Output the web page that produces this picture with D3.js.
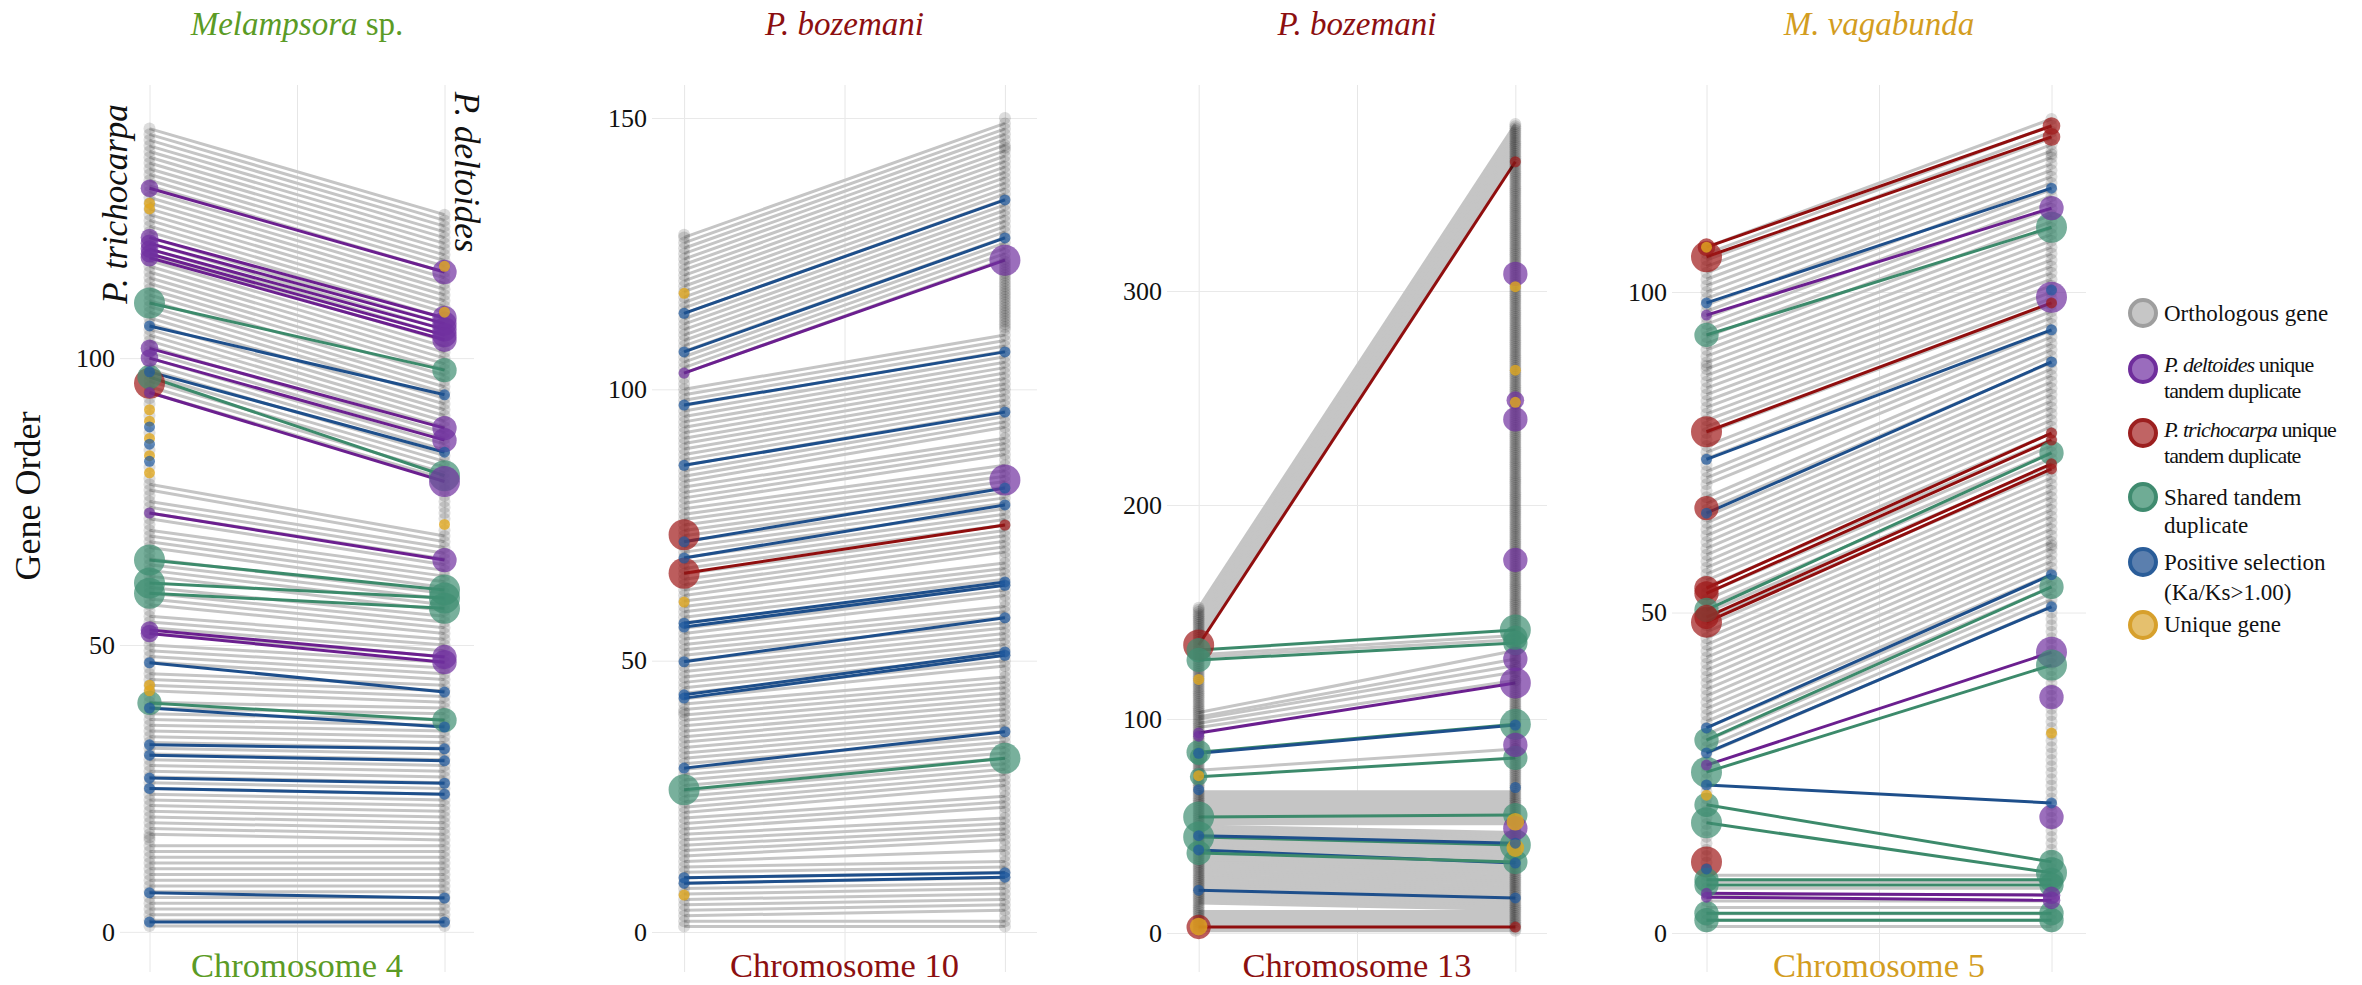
<!DOCTYPE html>
<html>
<head>
<meta charset="utf-8">
<script src="https://cdn.jsdelivr.net/npm/d3@7"></script>
<style>
  body { margin: 0; background: #fff; }
  svg { display: block; }
  text { font-family: "Liberation Serif", "Times New Roman", serif; }
</style>
</head>
<body>
<svg id="chart" width="2362" height="985"></svg>
<script>
// ---- data: gene order on P. trichocarpa (left) vs P. deltoides (right) ----
// categories: P = P. deltoides unique TD, R = P. trichocarpa unique TD,
// G = shared TD, B = positive selection, Y = unique gene. weight = point size class

const pathogenItalic = ['Melampsora', 'P. bozemani', 'P. bozemani', 'M. vagabunda'];
const pathogenSuffix = [' sp.', '', '', ''];
const chromosomes = ['Chromosome 4', 'Chromosome 10', 'Chromosome 13', 'Chromosome 5'];
const tickValues = [[0, 50, 100], [0, 50, 100, 150], [0, 100, 200, 300], [0, 50, 100]];

// Chromosome 4 (Melampsora sp.)
const chr4GrayL = [140,139,138,137,136,135,134,133,132,131,130,129,128,127,126,125,124,123,122,121,120,119,118,117,116,115,114,113,112,111,110,109,108,107,106,105,104,103,102,101,100,99,98,97,96,95,94,
  78,77,75,74,73,72,70,69,68,67,65,64,63,62,60,59,58,57,55,54,53,52,50,49,48,47,45,44,43,42,40,39,38,37,36,35,34,33,32,31,30,29,28,27,26,25,24,23,22,21,20,19,18,17,
  15,14,13,12,11,10,9,8,7,6,5,4,3,2,1];
const chr4GrayR = [125,124,123,122,121,120,119,118,117,116,115,114,113,112,111,110,109,108,107,106,105,104,103,102,101,100,99,98,97,96,95,94,93,92,91,90,89,88,87,86,85,84,83,82,81,80,79,
  69,68,67,66,65,64,63,62,61,60,59,58,57,56,55,54,53,52,51,50,49,48,47,46,45,44,43,42,41,40,39,38,37,36,35,34,33,32,31,30,29,28,27,26,25,24,23,22,21,20,19,18,17,16,
  15,14,13,12,11,10,9,8,7,6,5,4,3,2,1];
const chr4OnlyGrayL = [93,92,90,87,84,81,79,76,71,66,61,56,51,46,41,16,16.5];
const chr4OnlyGrayR = [78,77,76,75,74,73,72,70];
const chr4Pairs = [
  ['P',129.6,115,2,3],['P',121,107,2,3],['P',120,106,2,3],['P',119,105,2,3],['P',118.2,104,2,3],['P',117.5,103.2,2,3],
  ['G',109.6,97.9,4,3],['B',105.6,93.6,1,1],['P',101.7,87.8,2,3],['P',100,85.7,2,3],['B',97.6,83.6,1,1],
  ['G',96.7,79.5,3,4],['P',94,78.5,1,4],['P',73,64.8,1,3],['G',64.8,59.6,4,4],['G',60.8,58.2,4,4],['G',59,56.4,4,4],
  ['P',52.6,47.9,2,3],['P',52,47,2,3],['B',46.9,41.8,1,1],['G',39.9,36.9,3,3],['B',39,35.7,1,1],
  ['B',32.6,31.9,1,1],['B',30.8,29.8,1,1],['B',26.8,25.9,1,1],['B',25,24,1,1],['B',6.8,5.9,1,1],['B',1.7,1.7,1,1]
];
const chr4OnlyL = [['R',95.6,4],['Y',127,1],['Y',126,1],['Y',91,1],['Y',89,1],['Y',86,1],['Y',83,1],['Y',80,1],
  ['B',88,1],['B',85,1],['B',82,1],['Y',43,1],['Y',42,1]];
const chr4OnlyR = [['Y',116,1],['Y',108,1],['Y',71,1]];

// Chromosome 10 (P. bozemani)
const chr10GrayL = [128,127,126,125,124,123,122,121,120,119,118,117,116,115,114,113,112,111,110,109,108,107,106,105,104,103,
  100,99,98,97,96,95,94,93,92,91,90,89,88,87,86,85,84,83,82,81,80,79,78,77,76,75,74,73,72,71,70,69,68,67,66,65,64,63,62,61,
  60,59,58,57,56,55,54,53,52,51,50,49,48,47,46,45,44,43,42,41,40,39,38,37,36,35,34,33,32,31,30,29,28,27,26,25,24,23,22,21,
  20,19,18,17,16,15,14,13,12,11,10,9,8,7,6,5,4,3,2,1];
const chr10GrayR = [149,148,147,146,145,144,143,142,141,140,139,138,137,136,135,134,133,132,131,130,129,128,127,126,125,124,
  110,109,108,107,106,105,104,103,102,101,100,99,98,97,96,95,94,93,91,90,89,88,86,85,84,83,82,81,80,79,78,77,76,75,74,73,72,71,70,
  68,67,66,65,64,63,62,60,59,58,57,56,55,54,53,52,51,50,49,47,46,45,44,43,42,41,40,39,38,37,36,35,34,33,32,31,30,29,28,27,
  25,24,23,21,20,19,18,17,15,13,12,11,10,9,8,7,6,5,4,2,1];
const chr10OnlyGrayL = [101,102,128.5,40.5];
const chr10OnlyGrayR = [111,111.5,112,112.5,113,113.5,114,114.5,115,115.5,116,116.5,117,117.5,118,118.5,119,119.5,120,120.5,121,121.5,122,122.5,123,123.5,
  3,14,16,22,26,48,61,69,87,92,144.5,150];
const chr10Pairs = [
  ['B',114,134.9,1,1],['B',106.9,127.9,1,1],['P',103,123.8,1,4],['B',97.1,106.9,1,1],['B',86,95.8,1,1],
  ['B',71.9,81.8,1,1],['B',68.9,78.7,1,1],['R',66.1,75,4,1],['B',56.9,64.5,1,1],['B',56.2,63.9,1,1],
  ['B',49.8,57.9,1,1],['B',43.7,51.6,1,1],['B',43.1,51,1,1],['B',30.2,36.9,1,1],['G',26.2,32,4,4],
  ['B',10,10.9,1,1],['B',9,10.1,1,1]
];
const chr10OnlyL = [['R',73.2,4],['Y',117.7,1],['Y',60.8,1],['Y',6.8,1]];
const chr10OnlyR = [['P',83.3,4]];

// Chromosome 13 (P. bozemani)
const chr13GrayL = [152,151,150,149,148,147,146,145,144,143,142,141,140,139,138,137,136,
  130,129,103,101,100,98,96,76,
  66,65,64,63,62,61,60,59,58,57,56,55,54,53,52,51,
  50,49,48,47,46,45,44,43,42,41,40,39,38,37,36,35,34,33,32,31,30,29,28,27,26,25,24,23,22,21,20,19,18,17,16,15,14,
  10,9,8,7,6,5,4,3,2,1];
const chr13GrayR = [378,377,376,375,374,373,372,371,370,369,368,367,366,365,364,363,362,
  139,137,132,128,125,122,118,86,
  66,65,64,63,62,61,60,59,58,57,56,55,54,53,52,51,
  47,46,45,44,43,42,41,40,39,38,37,36,35,34,33,32,31,30,29,28,27,26,25,24,23,22,21,20,19,18,17,16,15,14,13,12,11,
  10,9,8,7,6,5,4,3,2,1];
const chr13OnlyGrayL = [135,134,133,132,131,128,127,126,125,124,123,122,121,120,119,118,117,116,115,114,113,112,111,110,109,108,107,106,105,104,
  102,99,97,95,94,93,92,91,90,89,88,87,86,85,84,83,82,81,80,79,78,77,75,74,73,72,71,70,69,68,67,13,12,11];
const chr13OnlyGrayR = [67,68,69,70,71,72,73,74,75,76,77,78,79,80,81,82,83,84,85,86,
  87,88,89,90,91,92,93,94,95,96,97,98,99,100,101,102,103,104,105,106,
  107,108,109,110,111,112,113,114,115,116,117,118,119,120,121,122,123,124,125,126,
  127,128,129,130,131,132,133,134,135,136,137,138,139,140,141,142,143,144,145,146,
  147,148,149,150,151,152,153,154,155,156,157,158,159,160,161,162,163,164,165,166,
  167,168,169,170,171,172,173,174,175,176,177,178,179,180,181,182,183,184,185,186,
  187,188,189,190,191,192,193,194,195,196,197,198,199,200,201,202,203,204,205,206,
  207,208,209,210,211,212,213,214,215,216,217,218,219,220,221,222,223,224,225,226,
  227,228,229,230,231,232,233,234,235,236,237,238,239,240,241,242,243,244,245,246,
  247,248,249,250,251,252,253,254,255,256,257,258,259,260,261,262,263,264,265,266,
  267,268,269,270,271,272,273,274,275,276,277,278,279,280,281,282,283,284,285,286,
  287,288,289,290,291,292,293,294,295,296,297,298,299,300,301,302,303,304,305,306,
  307,308,309,310,311,312,313,314,315,316,317,318,319,320,321,322,323,324,325,326,
  327,328,329,330,331,332,333,334,335,336,337,338,339,340,341,342,343,344,345,346,
  347,348,349,350,351,352,353,354,355,356,357,358,359,360,361,48,49,50];
const chr13Pairs = [
  ['R',134.6,360.4,4,1],['G',132.2,141.6,3,4],['G',127.6,135.5,3,3],['P',93.5,116.8,1,4],
  ['G',84.5,97.5,3,4],['B',84,97.2,1,1],['G',73,81.8,2,3],['G',54.2,55.1,4,3],['G',44.9,41.1,4,4],
  ['B',45.5,42,1,1],['B',38.8,32.7,1,1],['G',37.4,33.2,3,3],['B',20,16.4,1,1],['R',2.8,2.8,3,1]
];
const chr13OnlyL = [['Y',118.5,1],['Y',73.5,1],['B',67,1],['Y',3,2],['P',92,1],['G',82.5,2]];
const chr13OnlyR = [['P',308,3],['Y',302,1],['Y',263,1],['P',249,2],['Y',248,1],['P',240,3],['P',174.3,3],
  ['P',128,3],['G',138,3],['P',87.9,3],['B',68,1],['Y',52,2],['P',49,3],['Y',39.7,2]];

// Chromosome 5 (M. vagabunda)
const chr5GrayL = [107,106,105,104,103,102,101,100,99,98,97,96,95,94,93,92,91,90,89,88,87,86,85,84,83,82,81,80,79,
  78,76,75,74,72,71,70,68,67,
  66,65,64,63,62,61,60,59,58,57,56,55,54,53,52,51,50,49,48,47,46,45,44,43,42,41,40,39,38,37,36,35,34,33,32,31,30,29,28,
  9,8,7,6,5,4,3,2,1];
const chr5GrayR = [127,126,125,124,123,122,121,120,119,118,117,116,115,114,113,112,111,110,109,108,107,106,105,104,103,102,101,100,99,
  98,97,96,95,94,93,92,91,90,
  89,88,87,86,85,84,83,82,81,80,79,78,77,76,75,74,73,72,71,70,69,68,67,66,65,64,63,62,61,60,59,58,57,56,55,54,53,52,51,
  9,8,7,6,5,4,3,2,1];
const chr5OnlyGrayL = [77,73,69,27,26,25,24,23,22,21,20,19,18,17,16,15,14,13,12,11,10,88.5];
const chr5OnlyGrayR = [50,49,48,47,46,45,44,43,42,41,40,39,38,37,36,35,34,33,32,31,30,29,28,27,26,25,24,23,22,21,20,19,18,17,16,15,14,13,12,11,10,121.5,60.5];
const chr5Pairs = [
  ['R',107,125.9,2,2],['R',105.5,124.2,4,2],['B',98.3,116.2,1,1],['P',96.4,113.1,1,3],['G',93.3,110.1,3,4],
  ['R',78.2,98.3,4,1],['B',73.9,94.1,1,1],['B',65.5,89.1,1,1],['R',53.8,78,3,1],['R',53,76.9,3,1],
  ['G',50.4,74.9,3,3],['R',49.3,73.2,3,1],['R',48.5,72.4,4,1],['B',32,55.9,1,1],['G',30.1,54,3,3],
  ['B',28.1,50.9,1,1],['P',26.2,43.8,1,4],['G',25.1,41.8,4,4],['B',23.1,20.3,1,1],['G',20,11.1,3,3],
  ['G',17.2,9.4,4,4],['G',8.3,8.3,3,3],['G',7.5,7.5,3,3],['P',6.2,5.9,1,2],['P',5.6,5.1,1,2],
  ['G',3.1,3.1,3,3],['G',2,2,3,3]
];
const chr5OnlyL = [['Y',107,1],['R',66.3,3],['Y',21.5,1],['R',11.1,4],['B',10,1]];
const chr5OnlyR = [['P',99.2,4],['B',100.3,1],['P',36.8,3],['P',18.1,3],['Y',31.2,1]];

const legendLabels = [
  [['Orthologous gene']],
  [['P. deltoides', ' unique'], ['tandem duplicate']],
  [['P. trichocarpa', ' unique'], ['tandem duplicate']],
  [['Shared tandem'], ['duplicate']],
  [['Positive selection'], ['(Ka/Ks>1.00)']],
  [['Unique gene']]
];
const legendKeys = ['O', 'P', 'R', 'G', 'B', 'Y'];

// ---- layout / style ----
const panels = [
  {grayL: chr4GrayL, grayR: chr4GrayR, onlyGrayL: chr4OnlyGrayL, onlyGrayR: chr4OnlyGrayR, pairs: chr4Pairs, onlyL: chr4OnlyL, onlyR: chr4OnlyR},
  {grayL: chr10GrayL, grayR: chr10GrayR, onlyGrayL: chr10OnlyGrayL, onlyGrayR: chr10OnlyGrayR, pairs: chr10Pairs, onlyL: chr10OnlyL, onlyR: chr10OnlyR},
  {grayL: chr13GrayL, grayR: chr13GrayR, onlyGrayL: chr13OnlyGrayL, onlyGrayR: chr13OnlyGrayR, pairs: chr13Pairs, onlyL: chr13OnlyL, onlyR: chr13OnlyR},
  {grayL: chr5GrayL, grayR: chr5GrayR, onlyGrayL: chr5OnlyGrayL, onlyGrayR: chr5OnlyGrayR, pairs: chr5Pairs, onlyL: chr5OnlyL, onlyR: chr5OnlyR}
];
const layout = [
  {x0: 120, x1: 474, yDom: [-7, 147.6], color: '#5b9b25'},
  {x0: 652, x1: 1037, yDom: [-7.37, 156.08], color: '#8c0f10'},
  {x0: 1167, x1: 1547, yDom: [-18.22, 396.26], color: '#8c0f10'},
  {x0: 1672, x1: 2086, yDom: [-6.08, 132.3], color: '#d39d1f'}
];
const TOP = 85, BOTTOM = 972;
const lineColor = {P: '#6b1f8f', R: '#900e0e', G: '#3c8a6b', B: '#1e4f8b'};
const dotColor = {P: '#7030a0', R: '#a01818', G: '#3f8f72', B: '#1f5a9f', Y: '#e0a820'};
const legendFill = {O: '#c6c6c6', P: '#9a6cbd', R: '#c06464', G: '#6fac95', B: '#5b7fae', Y: '#e5c06e'};
const legendStroke = {O: '#9e9e9e', P: '#6f2e9c', R: '#9c1f1f', G: '#3f8b6f', B: '#2a5d99', Y: '#d7a02c'};
const rScale = d3.scaleLinear().domain([1, 4]).range([5.5, 15.5]);

const svg = d3.select('#chart');

panels.forEach((p, i) => {
  const L = layout[i];
  const x = d3.scaleLinear().domain([0.9, 2.1]).range([L.x0, L.x1]);
  const y = d3.scaleLinear().domain(L.yDom).range([BOTTOM, TOP]);
  const g = svg.append('g');

  // vertical grid
  g.append('g')
    .attr('transform', `translate(0,${BOTTOM})`)
    .call(d3.axisBottom(x).tickValues([1, 1.5, 2]).tickSize(-(BOTTOM - TOP)).tickFormat(''))
    .call(a => { a.select('.domain').remove(); a.selectAll('line').attr('stroke', '#e6e6e6'); });

  // horizontal grid + tick labels
  g.append('g')
    .attr('transform', `translate(${L.x0},0)`)
    .call(d3.axisLeft(y).tickValues(tickValues[i]).tickSize(-(L.x1 - L.x0)).tickPadding(5).tickFormat(d3.format('d')))
    .call(a => {
      a.select('.domain').remove();
      a.selectAll('line').attr('stroke', '#e9e9e9');
      a.selectAll('text').attr('font-size', 26).attr('fill', '#111')
        .attr('font-family', '"Liberation Serif", "Times New Roman", serif');
    });

  // gray ortholog lines
  g.append('g').selectAll('line').data(d3.zip(p.grayL, p.grayR)).join('line')
    .attr('x1', x(1)).attr('x2', x(2))
    .attr('y1', d => y(d[0])).attr('y2', d => y(d[1]))
    .attr('stroke', '#c5c5c5').attr('stroke-width', 3);

  // coloured lines
  g.append('g').selectAll('line').data(p.pairs).join('line')
    .attr('x1', x(1)).attr('x2', x(2))
    .attr('y1', d => y(d[1])).attr('y2', d => y(d[2]))
    .attr('stroke', d => lineColor[d[0]]).attr('stroke-width', 3);

  // gray points
  const grayPts = p.grayL.concat(p.onlyGrayL).map(v => [1, v])
    .concat(p.grayR.concat(p.onlyGrayR).map(v => [2, v]));
  g.append('g').selectAll('circle').data(grayPts).join('circle')
    .attr('cx', d => x(d[0])).attr('cy', d => y(d[1])).attr('r', 6)
    .attr('fill', '#111').attr('fill-opacity', 0.14);

  // coloured points, big first
  const pts = [];
  p.pairs.forEach(d => { pts.push({c: d[0], s: 1, v: d[1], w: d[3]}); pts.push({c: d[0], s: 2, v: d[2], w: d[4]}); });
  p.onlyL.forEach(d => pts.push({c: d[0], s: 1, v: d[1], w: d[2]}));
  p.onlyR.forEach(d => pts.push({c: d[0], s: 2, v: d[1], w: d[2]}));
  pts.sort((a, b) => b.w - a.w);
  g.append('g').selectAll('circle').data(pts).join('circle')
    .attr('cx', d => x(d.s)).attr('cy', d => y(d.v)).attr('r', d => rScale(d.w))
    .attr('fill', d => dotColor[d.c]).attr('fill-opacity', d => d.c === 'Y' ? 0.8 : 0.7);

  // title
  const t = svg.append('text')
    .attr('x', x(1.5)).attr('y', 35).attr('text-anchor', 'middle')
    .attr('font-size', 33).attr('fill', L.color);
  t.append('tspan').attr('font-style', 'italic').text(pathogenItalic[i]);
  if (pathogenSuffix[i]) t.append('tspan').text(pathogenSuffix[i]);

  // chromosome label
  svg.append('text')
    .attr('x', x(1.5)).attr('y', 977).attr('text-anchor', 'middle')
    .attr('font-size', 34.5).attr('fill', L.color).text(chromosomes[i]);
});

// axis titles
svg.append('text').attr('transform', 'translate(40,496) rotate(-90)')
  .attr('text-anchor', 'middle').attr('font-size', 36).attr('fill', '#111').text('Gene Order');
svg.append('text').attr('transform', 'translate(127,204) rotate(-90)')
  .attr('text-anchor', 'middle').attr('font-size', 35).attr('font-style', 'italic').attr('fill', '#111').text('P. trichocarpa');
svg.append('text').attr('transform', 'translate(455,172) rotate(90)')
  .attr('text-anchor', 'middle').attr('font-size', 35).attr('font-style', 'italic').attr('fill', '#111').text('P. deltoides');

// legend
const legendRows = [
  {cy: 313, base: [321]},
  {cy: 369, base: [372, 398]},
  {cy: 433, base: [437, 463]},
  {cy: 497, base: [505, 533]},
  {cy: 562, base: [570, 600]},
  {cy: 625, base: [632]}
];
const lg = svg.append('g');
legendKeys.forEach((k, i) => {
  const row = legendRows[i];
  lg.append('circle').attr('cx', 2143).attr('cy', row.cy).attr('r', 13)
    .attr('fill', legendFill[k]).attr('stroke', legendStroke[k]).attr('stroke-width', 4);
  const tight = k === 'P' || k === 'R';
  legendLabels[i].forEach((line, j) => {
    const tx = lg.append('text').attr('x', 2164).attr('y', row.base[j])
      .attr('font-size', tight ? 22 : 23).attr('fill', '#111')
      .attr('letter-spacing', tight ? -0.9 : 0);
    line.forEach((part, m) => {
      const ts = tx.append('tspan').text(part);
      if (tight && j === 0 && m === 0) ts.attr('font-style', 'italic');
    });
  });
});
</script>
</body>
</html>
